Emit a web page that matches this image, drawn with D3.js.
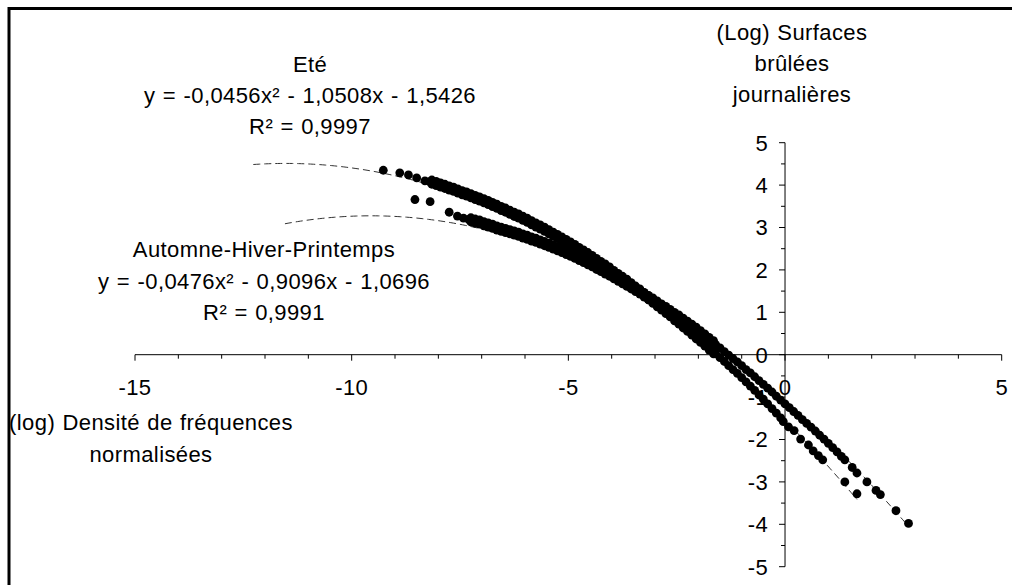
<!DOCTYPE html>
<html><head><meta charset="utf-8">
<script src="https://cdn.jsdelivr.net/npm/d3@7"></script>
<style>body{margin:0;background:#fff} svg text{font-family:"Liberation Sans",Arial,sans-serif;fill:#000}</style>
</head><body><svg id="c" width="1012" height="585"></svg>
<script>
// ---- data ----
const xMajorTicks = [-15, -10, -5, 0, 5];
const yMajorTicks = [-5, -4, -3, -2, -1, 0, 1, 2, 3, 4, 5];
// Eté series: main run of points read along the band
const etePoints = [[-9.27,4.35],[-8.89,4.29],[-8.69,4.24],[-8.50,4.17],[-8.31,4.10],
[-8.2,4.08],[-8.1,4.05],[-8.0,4.02],[-7.9,3.98],[-7.8,3.95],[-7.7,3.91],[-7.6,3.88],[-7.5,3.84],[-7.4,3.80],[-7.3,3.77],[-7.2,3.73],[-7.1,3.69],[-7.0,3.65],[-6.9,3.61],[-6.8,3.56],[-6.7,3.52],[-6.6,3.47],[-6.5,3.43],[-6.4,3.38],[-6.3,3.33],[-6.2,3.29],[-6.1,3.24],[-6.0,3.19],[-5.9,3.14],[-5.8,3.08],[-5.7,3.03],[-5.6,2.98],[-5.5,2.93],[-5.4,2.87],[-5.3,2.81],[-5.2,2.76],[-5.1,2.70],[-5.0,2.64],[-4.9,2.58],[-4.8,2.51],[-4.7,2.45],[-4.6,2.39],[-4.5,2.32],[-4.4,2.25],[-4.3,2.18],[-4.2,2.12],[-4.1,2.05],[-4.0,1.98],[-3.9,1.90],[-3.8,1.83],[-3.7,1.76],[-3.6,1.69],[-3.5,1.61],[-3.4,1.53],[-3.3,1.46],[-3.2,1.38],[-3.1,1.30],[-3.0,1.22],[-2.9,1.14],[-2.8,1.06],[-2.7,0.98],[-2.6,0.89],[-2.5,0.81],[-2.4,0.72],[-2.3,0.64],[-2.2,0.55],[-2.1,0.46],[-2.0,0.38],[-1.9,0.29],[-1.8,0.20],[-1.7,0.11],[-1.6,0.02],[-1.5,-0.07],[-1.4,-0.16],[-1.3,-0.26],[-1.2,-0.35],[-1.1,-0.44],[-1.0,-0.54],[-0.9,-0.64],[-0.8,-0.74],[-0.7,-0.84],[-0.6,-0.95],[-0.5,-1.05],[-0.4,-1.16],[-0.3,-1.27],[-0.2,-1.38],[-0.1,-1.49],[-0.04,-1.58],[0.08,-1.70],[0.21,-1.79],[0.36,-1.99],[0.54,-2.13],[0.65,-2.27],[0.77,-2.38],[0.87,-2.48],[1.38,-3.00],[1.66,-3.28]];
// Eté series: points on the upper and lower edges of the dense band
const eteUpper = [[-8.15,4.12],[-8.05,4.09],[-7.95,4.05],[-7.85,4.02],[-7.75,3.98],[-7.65,3.95],[-7.55,3.91],[-7.45,3.87],[-7.35,3.84],[-7.25,3.80],[-7.15,3.76],[-7.05,3.72],[-6.95,3.68],[-6.85,3.64],[-6.75,3.59],[-6.65,3.55],[-6.55,3.50],[-6.45,3.46],[-6.35,3.41],[-6.25,3.36],[-6.15,3.32],[-6.05,3.27],[-5.95,3.22],[-5.85,3.16],[-5.75,3.11],[-5.65,3.06],[-5.55,3.01],[-5.45,2.95],[-5.35,2.89],[-5.25,2.84],[-5.15,2.78],[-5.05,2.72],[-4.95,2.66],[-4.85,2.60],[-4.75,2.53],[-4.65,2.47],[-4.55,2.41],[-4.45,2.34],[-4.35,2.27],[-4.25,2.20],[-4.15,2.14],[-4.05,2.07],[-3.95,1.99],[-3.85,1.92],[-3.75,1.85],[-3.65,1.78],[-3.55,1.70],[-3.45,1.62],[-3.35,1.55],[-3.25,1.47],[-3.15,1.39],[-3.05,1.31],[-2.95,1.23],[-2.85,1.15],[-2.75,1.07],[-2.65,0.99],[-2.55,0.90],[-2.45,0.82],[-2.35,0.73],[-2.25,0.65],[-2.15,0.56],[-2.05,0.47],[-1.95,0.39],[-1.85,0.30],[-1.75,0.21],[-1.65,0.12]];
const eteLower = [[-8.15,4.02],[-8.05,3.99],[-7.95,3.95],[-7.85,3.92],[-7.75,3.88],[-7.65,3.85],[-7.55,3.81],[-7.45,3.77],[-7.35,3.74],[-7.25,3.70],[-7.15,3.66],[-7.05,3.62],[-6.95,3.58],[-6.85,3.54],[-6.75,3.49],[-6.65,3.45],[-6.55,3.40],[-6.45,3.36],[-6.35,3.31],[-6.25,3.26],[-6.15,3.22],[-6.05,3.17],[-5.95,3.12],[-5.85,3.06],[-5.75,3.01],[-5.65,2.96],[-5.55,2.91],[-5.45,2.85],[-5.35,2.79],[-5.25,2.74],[-5.15,2.68],[-5.05,2.62],[-4.95,2.56],[-4.85,2.50],[-4.75,2.43],[-4.65,2.37],[-4.55,2.31],[-4.45,2.24],[-4.35,2.17],[-4.25,2.10],[-4.15,2.04],[-4.05,1.97],[-3.95,1.89],[-3.85,1.82],[-3.75,1.75],[-3.65,1.68],[-3.55,1.60],[-3.45,1.52],[-3.35,1.45],[-3.25,1.37],[-3.15,1.29],[-3.05,1.21],[-2.95,1.13],[-2.85,1.05],[-2.75,0.97],[-2.65,0.89],[-2.55,0.80],[-2.45,0.72],[-2.35,0.63],[-2.25,0.55],[-2.15,0.46],[-2.05,0.37],[-1.95,0.29],[-1.85,0.20],[-1.75,0.11],[-1.65,0.02]];
// Automne-Hiver-Printemps series
const ahpPoints = [[-8.54,3.66],[-8.19,3.61],[-7.75,3.36],[-7.56,3.27],[-7.42,3.22],
[-7.3,3.19],[-7.2,3.16],[-7.1,3.14],[-7.0,3.11],[-6.9,3.07],[-6.8,3.04],[-6.7,3.01],[-6.6,2.97],[-6.5,2.94],[-6.4,2.91],[-6.3,2.88],[-6.2,2.85],[-6.1,2.82],[-6.0,2.78],[-5.9,2.75],[-5.8,2.71],[-5.7,2.68],[-5.6,2.64],[-5.5,2.60],[-5.4,2.56],[-5.3,2.52],[-5.2,2.48],[-5.1,2.43],[-5.0,2.39],[-4.9,2.34],[-4.8,2.29],[-4.7,2.24],[-4.6,2.19],[-4.5,2.14],[-4.4,2.09],[-4.3,2.03],[-4.2,1.98],[-4.1,1.92],[-4.0,1.87],[-3.9,1.81],[-3.8,1.75],[-3.7,1.69],[-3.6,1.63],[-3.5,1.57],[-3.4,1.51],[-3.3,1.44],[-3.2,1.38],[-3.1,1.32],[-3.0,1.25],[-2.9,1.18],[-2.8,1.12],[-2.7,1.05],[-2.6,0.98],[-2.5,0.92],[-2.4,0.85],[-2.3,0.77],[-2.2,0.70],[-2.1,0.63],[-2.0,0.56],[-1.9,0.48],[-1.8,0.40],[-1.7,0.32],[-1.6,0.24],[-1.5,0.16],[-1.4,0.07],[-1.3,-0.01],[-1.2,-0.09],[-1.1,-0.17],[-1.0,-0.26],[-0.9,-0.35],[-0.8,-0.43],[-0.7,-0.52],[-0.6,-0.61],[-0.5,-0.70],[-0.4,-0.79],[-0.3,-0.88],[-0.2,-0.98],[-0.1,-1.07],[0.0,-1.16],[0.1,-1.25],[0.2,-1.34],[0.3,-1.43],[0.4,-1.53],[0.5,-1.62],[0.6,-1.71],[0.7,-1.80],[0.8,-1.90],[0.9,-1.99],[1.0,-2.09],[1.1,-2.19],[1.2,-2.29],[1.3,-2.40],[1.38,-2.48],[1.55,-2.66],[1.66,-2.79],[1.89,-3.00],[2.10,-3.20],[2.20,-3.30],[2.56,-3.68],[2.85,-3.98]];
const ahpUpper = [[-7.25,3.23],[-7.15,3.20],[-7.05,3.18],[-6.95,3.14],[-6.85,3.11],[-6.75,3.08],[-6.65,3.04],[-6.55,3.01],[-6.45,2.98],[-6.35,2.95],[-6.25,2.92],[-6.15,2.89],[-6.05,2.85],[-5.95,2.82],[-5.85,2.78],[-5.75,2.75],[-5.65,2.71],[-5.55,2.67],[-5.45,2.63],[-5.35,2.59],[-5.25,2.55],[-5.15,2.51],[-5.05,2.46],[-4.95,2.42],[-4.85,2.37],[-4.75,2.32],[-4.65,2.27],[-4.55,2.22],[-4.45,2.17],[-4.35,2.11],[-4.25,2.06],[-4.15,2.00],[-4.05,1.95],[-3.95,1.89],[-3.85,1.83],[-3.75,1.77],[-3.65,1.71],[-3.55,1.65],[-3.45,1.59],[-3.35,1.53],[-3.25,1.46],[-3.15,1.40],[-3.05,1.34],[-2.95,1.27],[-2.85,1.20],[-2.75,1.14],[-2.65,1.07],[-2.55,1.00],[-2.45,0.94],[-2.35,0.86],[-2.25,0.79],[-2.15,0.72],[-2.05,0.65],[-1.95,0.57],[-1.85,0.49],[-1.75,0.41],[-1.65,0.33]];
const ahpLower = [[-7.25,3.13],[-7.15,3.10],[-7.05,3.08],[-6.95,3.04],[-6.85,3.01],[-6.75,2.98],[-6.65,2.94],[-6.55,2.91],[-6.45,2.88],[-6.35,2.85],[-6.25,2.82],[-6.15,2.79],[-6.05,2.75],[-5.95,2.72],[-5.85,2.68],[-5.75,2.65],[-5.65,2.61],[-5.55,2.57],[-5.45,2.53],[-5.35,2.49],[-5.25,2.45],[-5.15,2.41],[-5.05,2.36],[-4.95,2.32],[-4.85,2.27],[-4.75,2.22],[-4.65,2.17],[-4.55,2.12],[-4.45,2.07],[-4.35,2.01],[-4.25,1.96],[-4.15,1.90],[-4.05,1.85],[-3.95,1.79],[-3.85,1.73],[-3.75,1.67],[-3.65,1.61],[-3.55,1.55],[-3.45,1.49],[-3.35,1.43],[-3.25,1.36],[-3.15,1.30],[-3.05,1.24],[-2.95,1.17],[-2.85,1.10],[-2.75,1.04],[-2.65,0.97],[-2.55,0.90],[-2.45,0.84],[-2.35,0.76],[-2.25,0.69],[-2.15,0.62],[-2.05,0.55],[-1.95,0.47],[-1.85,0.39],[-1.75,0.31],[-1.65,0.23]];
const eteCoef = [-0.0456, -1.0508, -1.5426];
const ahpCoef = [-0.0476, -0.9096, -1.0696];
const eteTrendRange = [-12.27, 1.66];
const ahpTrendRange = [-11.54, 2.85];
const eteLabel = ["Eté", "y = -0,0456x² - 1,0508x - 1,5426", "R² = 0,9997"];
const ahpLabel = ["Automne-Hiver-Printemps", "y = -0,0476x² - 0,9096x - 1,0696", "R² = 0,9991"];
const yTitle = ["(Log) Surfaces", "brûlées", "journalières"];
const xTitle = ["(log) Densité de fréquences", "normalisées"];

// ---- drawing ----
const svg = d3.select("#c");
svg.append("rect").attr("width",1012).attr("height",585).attr("fill","#fff");
svg.append("rect").attr("x",9).attr("y",8.5).attr("width",1100).attr("height",1000)
  .attr("fill","none").attr("stroke","#000").attr("stroke-width",3);

const x = d3.scaleLinear().domain([-15,5]).range([135,1001.7]);
const y = d3.scaleLinear().domain([-5,5]).range([566.7,142.7]);
const FS = 22, LS = 0.4, WS = 0.9;

// x axis
const xAxisG = svg.append("g").attr("transform",`translate(0,${y(0)})`);
xAxisG.append("line").attr("x1",x(-15)).attr("x2",x(5)).attr("stroke","#000");
xAxisG.selectAll("line.t").data(d3.range(-15,6)).join("line").attr("class","t")
  .attr("x1",d=>x(d)).attr("x2",d=>x(d)).attr("y1",0).attr("y2",d=>d%5===0?6:4).attr("stroke","#000");
xAxisG.selectAll("text").data(xMajorTicks).join("text")
  .attr("x",d=>x(d)).attr("y",40).attr("text-anchor","middle").attr("font-size",FS)
  .attr("letter-spacing",LS).text(d=>d);

// y axis
const yAxisG = svg.append("g").attr("transform",`translate(${x(0)},0)`);
yAxisG.append("line").attr("y1",y(-5)).attr("y2",y(5)).attr("stroke","#000");
yAxisG.selectAll("line.t").data(d3.range(-10,11).map(d=>d/2)).join("line").attr("class","t")
  .attr("y1",d=>y(d)).attr("y2",d=>y(d)).attr("x1",0).attr("x2",d=>Number.isInteger(d)?-6:-4).attr("stroke","#000");
yAxisG.selectAll("text").data(yMajorTicks).join("text")
  .attr("x",-17).attr("y",d=>y(d)+7.8).attr("text-anchor","end").attr("font-size",FS)
  .attr("letter-spacing",LS).text(d=>d);

// trend lines (polynomial order 2, from the displayed equations)
function trend(coef, range){
  return d3.range(0,201).map(i=>{const t=range[0]+(range[1]-range[0])*i/200; return [t, coef[0]*t*t+coef[1]*t+coef[2]];});
}
const line = d3.line().x(d=>x(d[0])).y(d=>y(d[1]));
[[eteCoef,eteTrendRange],[ahpCoef,ahpTrendRange]].forEach(([c,r])=>{
  svg.append("path").attr("d",line(trend(c,r))).attr("fill","none")
    .attr("stroke","#333").attr("stroke-width",1).attr("stroke-dasharray","7,4");
});

// points
[etePoints.concat(eteUpper, eteLower), ahpPoints.concat(ahpUpper, ahpLower)].forEach(pts=>{
  svg.append("g").selectAll("circle").data(pts).join("circle")
    .attr("cx",d=>x(d[0])).attr("cy",d=>y(d[1])).attr("r",4.4).attr("fill","#000");
});

// labels
function block(lines, cx, y0, dy){
  const t = svg.append("text").attr("text-anchor","middle").attr("font-size",FS)
    .attr("letter-spacing",LS).attr("word-spacing",WS);
  lines.forEach((s,i)=>t.append("tspan").attr("x",cx).attr("y",y0+i*dy).text(s));
}
block(eteLabel, 310, 71.5, 31);
block(ahpLabel, 264, 257, 31.5);
block(yTitle, 792, 40, 31);
block(xTitle, 151, 430, 31.5);
</script></body></html>
